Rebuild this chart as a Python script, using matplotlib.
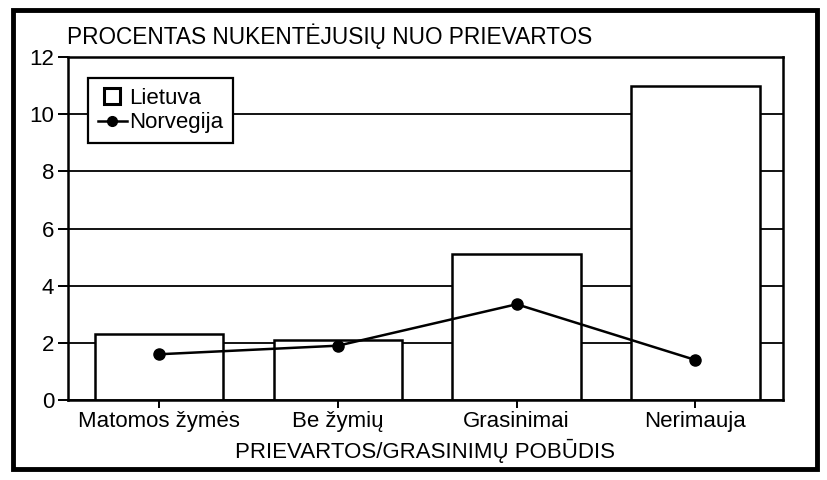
import matplotlib
matplotlib.use("Agg")
import matplotlib.pyplot as plt
from matplotlib.patches import Rectangle
from matplotlib.lines import Line2D

plt.rcParams["font.family"] = ["Liberation Sans", "DejaVu Sans"]

categories = ["Matomos žymės", "Be žymių", "Grasinimai", "Nerimauja"]
lietuva = [2.3, 2.1, 5.1, 11.0]
norvegija = [1.6, 1.9, 3.35, 1.4]
y_ticks = [0, 2, 4, 6, 8, 10, 12]

title = "PROCENTAS NUKENTĖJUSIŲ NUO PRIEVARTOS"
x_label = "PRIEVARTOS/GRASINIMŲ POBŪDIS"

FS = 16

fig = plt.figure(figsize=(8.27, 4.8), dpi=100)
ax = fig.add_axes([0.0822, 0.1667, 0.8646, 0.7145])

x = range(len(categories))
ax.bar(x, lietuva, width=0.72, color="white", edgecolor="black",
       linewidth=1.8, zorder=2)
ax.plot(x, norvegija, color="black", linewidth=1.8, marker="o",
        markersize=8, zorder=3)

ax.set_xlim(-0.51, 3.49)
ax.set_ylim(0, 12)
ax.set_yticks(y_ticks)
ax.set_xticks(list(x))
ax.set_xticklabels(categories, fontsize=FS)
ax.tick_params(axis="y", labelsize=FS, length=7, width=1.4, pad=3)
ax.tick_params(axis="x", length=6, width=1.4, pad=2)
ax.yaxis.grid(True, color="black", linewidth=1.3)
ax.set_axisbelow(True)
for s in ax.spines.values():
    s.set_linewidth(1.8)

ax.set_xlabel(x_label, fontsize=FS, labelpad=5)
fig.text(67 / 827, 1 - 36 / 480, title, fontsize=16.3, ha="left", va="center")

handles = [
    Line2D([0], [0], linestyle="none", marker="s", markersize=11,
           markerfacecolor="white", markeredgecolor="black",
           markeredgewidth=2.2),
    Line2D([0], [0], color="black", linewidth=1.8, marker="o", markersize=7),
]
leg = ax.legend(handles, ["Lietuva", "Norvegija"], loc="upper left",
                bbox_to_anchor=(0.028, 0.939), fontsize=FS, frameon=True,
                fancybox=False, edgecolor="black", framealpha=1,
                handlelength=1.3, handletextpad=0.1, borderpad=0.45,
                labelspacing=0.15, borderaxespad=0)
leg.get_frame().set_linewidth(1.6)

# thick outer frame
fig.patches.append(Rectangle((13 / 827, 1 - 469 / 480), 804 / 827, 459 / 480,
                             transform=fig.transFigure, fill=False,
                             edgecolor="black", linewidth=3.5))

fig.savefig("out.png", dpi=100)
